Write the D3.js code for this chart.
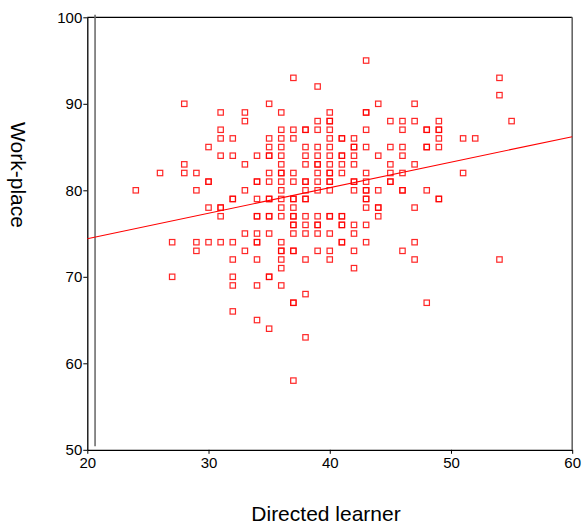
<!DOCTYPE html>
<html>
<head>
<meta charset="utf-8">
<script src="https://cdn.jsdelivr.net/npm/d3@7"></script>
<style>
  body { margin: 0; background: #fff; }
  text { font-family: "Liberation Sans", Arial, sans-serif; fill: #000; }
</style>
</head>
<body>
<div id="chart"></div>
<script>
// work-place score (y) and the directed learner scores (x) found at that score
const workplaceLevels = [95, 93, 92, 91, 90, 89, 88, 87, 86, 85, 84, 83, 82, 81, 80, 79, 78, 77, 76, 75, 74, 73, 72, 71, 70, 69, 68, 67, 66, 65, 64, 63, 58];
const directedAtLevel = [
  [43],
  [37, 54],
  [39],
  [54],
  [28, 35, 44, 47],
  [31, 33, 36, 40, 43, 43],
  [33, 39, 40, 40, 45, 46, 47, 49, 55],
  [31, 36, 37, 38, 38, 39, 40, 43, 46, 48, 48, 49, 49],
  [31, 32, 35, 36, 37, 40, 41, 41, 42, 49, 51, 52],
  [30, 35, 36, 38, 39, 40, 42, 42, 43, 45, 46, 48, 48, 49],
  [31, 32, 34, 35, 35, 36, 38, 39, 40, 41, 41, 42, 44, 46],
  [28, 33, 36, 38, 39, 39, 40, 41, 42, 45, 47],
  [26, 28, 29, 35, 36, 36, 37, 39, 40, 40, 41, 43, 45, 46, 51],
  [30, 30, 34, 34, 35, 36, 37, 38, 38, 39, 40, 40, 42, 42, 43, 45, 45],
  [24, 29, 33, 36, 38, 39, 40, 42, 43, 43, 44, 46, 46, 48],
  [32, 32, 34, 35, 35, 36, 37, 37, 38, 38, 43, 43, 49, 49],
  [30, 31, 31, 36, 37, 43, 44, 44, 47],
  [31, 34, 34, 35, 35, 36, 37, 37, 38, 39, 40, 40, 41, 41, 44],
  [37, 37, 38, 39, 39, 41, 41, 42, 43],
  [33, 34, 35, 37, 38, 39, 40, 42],
  [27, 29, 30, 31, 32, 34, 34, 36, 41, 41, 43, 47],
  [29, 33, 36, 36, 37, 37, 39, 40, 42, 46],
  [32, 34, 36, 38, 40, 47, 54],
  [36, 42],
  [27, 32, 35, 35],
  [32, 34, 36],
  [38],
  [37, 37, 48],
  [32],
  [34],
  [35],
  [38],
  [37]
];

// fitted line at both ends of the x range
const fitX = [20, 60];
const fitY = [74.4, 86.2];

// thin grey vertical reference line near the left edge
const refX = 20.64;
const refY = [50.4, 100.3];

const xTicks = [20, 30, 40, 50, 60];
const yTicks = [50, 60, 70, 80, 90, 100];

const points = [];
workplaceLevels.forEach((lvl, i) => {
  directedAtLevel[i].forEach(v => points.push({ x: v, y: lvl }));
});

const W = 582, H = 525;
const svg = d3.select("#chart").append("svg")
  .attr("width", W)
  .attr("height", H);

const x = d3.scaleLinear().domain([20, 60]).range([87.3, 572.2]);
const y = d3.scaleLinear().domain([50, 100]).range([449.8, 17.3]);

// frame (top + right)
svg.append("line")
  .attr("x1", x(20)).attr("x2", x(60))
  .attr("y1", y(100)).attr("y2", y(100))
  .attr("stroke", "#000").attr("stroke-width", 1.2);
svg.append("line")
  .attr("x1", x(60)).attr("x2", x(60))
  .attr("y1", y(100)).attr("y2", y(50))
  .attr("stroke", "#666").attr("stroke-width", 1.6);

// reference line
svg.append("line")
  .attr("x1", x(refX)).attr("x2", x(refX))
  .attr("y1", y(refY[0])).attr("y2", y(refY[1]))
  .attr("stroke", "#6e6e6e").attr("stroke-width", 1.6);

// axes
const yAxis = d3.axisLeft(y).tickValues(yTicks).tickSize(4).tickSizeOuter(0).tickPadding(1);
const xAxis = d3.axisBottom(x).tickValues(xTicks).tickSize(4).tickSizeOuter(0).tickPadding(4);

const gy = svg.append("g").attr("transform", "translate(" + x(20) + ",0)").call(yAxis);
const gx = svg.append("g").attr("transform", "translate(0," + y(50) + ")").call(xAxis);

[gx, gy].forEach(g => {
  g.select(".domain").attr("stroke", "#000").attr("stroke-width", 1.3);
  g.selectAll(".tick line").attr("stroke", "#000").attr("stroke-width", 1);
  g.selectAll(".tick text")
    .attr("font-family", "Liberation Sans, Arial, sans-serif")
    .attr("font-size", 15)
    .attr("fill", "#000");
});

// fit line
svg.append("line")
  .attr("x1", x(fitX[0])).attr("y1", y(fitY[0]))
  .attr("x2", x(fitX[1])).attr("y2", y(fitY[1]))
  .attr("stroke", "#ff0000").attr("stroke-width", 1.1);

// markers
const s = 5.4;
svg.append("g").selectAll("rect")
  .data(points)
  .enter()
  .append("rect")
  .attr("x", d => x(d.x) - s / 2)
  .attr("y", d => y(d.y) - s / 2)
  .attr("width", s)
  .attr("height", s)
  .attr("fill", "none")
  .attr("stroke", "#ff0000")
  .attr("stroke-opacity", 0.85)
  .attr("stroke-width", 1.2);

// axis titles
svg.append("text")
  .attr("transform", "translate(11,175) rotate(90)")
  .attr("text-anchor", "middle")
  .attr("font-size", 21)
  .text("Work-place");

svg.append("text")
  .attr("x", 326)
  .attr("y", 521)
  .attr("text-anchor", "middle")
  .attr("font-size", 21)
  .text("Directed learner");
</script>
</body>
</html>
